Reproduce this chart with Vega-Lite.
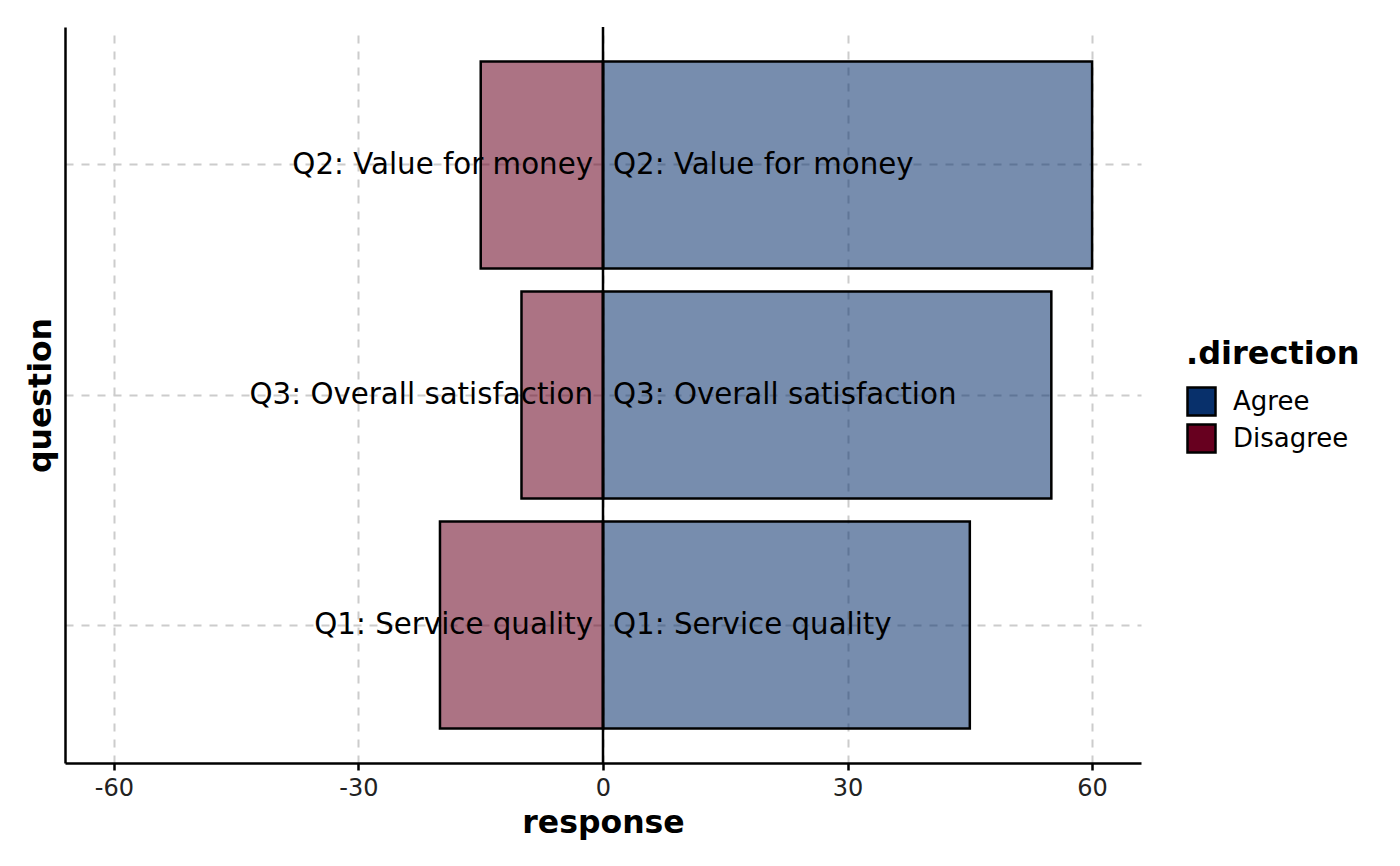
{
  "$schema": "https://vega.github.io/schema/vega-lite/v6.json",
  "width": 1076,
  "height": 736,
  "autosize": {"type": "none"},
  "padding": {"left": 65, "top": 27, "right": 259, "bottom": 103},
  "background": "white",
  "config": {
    "view": {"stroke": null},
    "font": "DejaVu Sans",
    "axis": {"labelFont": "DejaVu Sans", "titleFont": "DejaVu Sans"},
    "legend": {"labelFont": "DejaVu Sans", "titleFont": "DejaVu Sans"}
  },
  "data": {
    "values": [
      {"question": "Q1: Service quality", "direction": "Agree", "response": 45},
      {"question": "Q1: Service quality", "direction": "Disagree", "response": -20},
      {"question": "Q2: Value for money", "direction": "Agree", "response": 60},
      {"question": "Q2: Value for money", "direction": "Disagree", "response": -15},
      {"question": "Q3: Overall satisfaction", "direction": "Agree", "response": 55},
      {"question": "Q3: Overall satisfaction", "direction": "Disagree", "response": -10}
    ]
  },
  "layer": [
    {
      "mark": {"type": "bar", "stroke": "black", "strokeWidth": 2.5, "fillOpacity": 0.55},
      "encoding": {
        "y": {
          "field": "question",
          "type": "nominal",
          "sort": ["Q2: Value for money", "Q3: Overall satisfaction", "Q1: Service quality"],
          "scale": {"paddingInner": 0.1, "paddingOuter": 0.15},
          "axis": {
            "title": "question",
            "titleFontSize": 31.5,
            "titleFontWeight": "bold",
            "titleColor": "black",
            "titlePadding": 8,
            "labels": false,
            "ticks": false,
            "domainColor": "black",
            "domainWidth": 2.5,
            "grid": true,
            "bandPosition": 0.5,
            "gridColor": "#cccccc",
            "gridDash": [8, 8],
            "gridWidth": 2
          }
        },
        "x": {
          "field": "response",
          "type": "quantitative",
          "scale": {"domain": [-66, 66], "nice": false, "zero": false},
          "axis": {
            "title": "response",
            "titleFontSize": 31.5,
            "titleFontWeight": "bold",
            "titleColor": "black",
            "titlePadding": 7,
            "values": [-60, -30, 0, 30, 60],
            "labelExpr": "toString(datum.value)",
            "labelFontSize": 24,
            "labelColor": "#222222",
            "labelPadding": 6,
            "tickColor": "black",
            "tickSize": 7,
            "tickWidth": 2.5,
            "domainColor": "black",
            "domainWidth": 2.5,
            "grid": true,
            "gridColor": "#cccccc",
            "gridDash": [8, 8],
            "gridWidth": 2
          }
        },
        "color": {
          "field": "direction",
          "type": "nominal",
          "scale": {"domain": ["Agree", "Disagree"], "range": ["#08306b", "#67001f"]},
          "legend": {
            "title": ".direction",
            "orient": "none",
            "legendX": 1121,
            "legendY": 312,
            "titleFontSize": 32,
            "titleFontWeight": "bold",
            "titleColor": "black",
            "titlePadding": 15,
            "labelFontSize": 26,
            "labelColor": "black",
            "labelOffset": 16,
            "symbolType": "square",
            "symbolSize": 784,
            "symbolStrokeColor": "black",
            "symbolStrokeWidth": 2.5,
            "symbolOpacity": 1,
            "rowPadding": -2,
            "encode": {"symbols": {"update": {"fillOpacity": {"value": 1}, "opacity": {"value": 1}}}}
          }
        }
      }
    },
    {
      "data": {"values": [{"v": 0}]},
      "mark": {"type": "rule", "color": "black", "strokeWidth": 2.5},
      "encoding": {"x": {"field": "v", "type": "quantitative"}}
    },
    {
      "transform": [{"filter": "datum.direction === 'Disagree'"}],
      "mark": {"type": "text", "align": "right", "baseline": "middle", "dx": -10, "fontSize": 29.3, "color": "black"},
      "encoding": {
        "y": {"field": "question", "type": "nominal", "sort": ["Q2: Value for money", "Q3: Overall satisfaction", "Q1: Service quality"]},
        "x": {"datum": 0, "type": "quantitative"},
        "text": {"field": "question"}
      }
    },
    {
      "transform": [{"filter": "datum.direction === 'Agree'"}],
      "mark": {"type": "text", "align": "left", "baseline": "middle", "dx": 10, "fontSize": 29.3, "color": "black"},
      "encoding": {
        "y": {"field": "question", "type": "nominal", "sort": ["Q2: Value for money", "Q3: Overall satisfaction", "Q1: Service quality"]},
        "x": {"datum": 0, "type": "quantitative"},
        "text": {"field": "question"}
      }
    }
  ]
}
